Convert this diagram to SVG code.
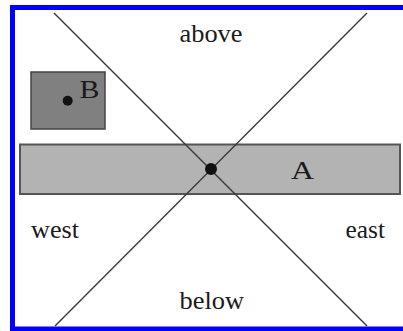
<svg xmlns="http://www.w3.org/2000/svg" width="403" height="331" viewBox="0 0 403 331">
<style>
.t{font-family:"Liberation Serif","Times New Roman",serif;font-size:25px;fill:#1a1a1a}
.ln{stroke:#3a3a3a;stroke-width:1.4;fill:none}
</style>
<rect x="0" y="0" width="403" height="331" fill="#fff"/>
<rect x="12.5" y="7.5" width="400" height="321.5" fill="none" stroke="#0000ff" stroke-width="5"/>
<g id="A">
<rect x="20" y="144.5" width="380" height="49.5" fill="#b3b3b3" stroke="#555" stroke-width="2"/>
<text class="t" x="291" y="179" font-size="29" textLength="23" lengthAdjust="spacingAndGlyphs">A</text>
</g>
<g id="B">
<rect x="31" y="72" width="74" height="57" fill="#808080" stroke="#444" stroke-width="1.5"/>
<circle cx="67.7" cy="100.7" r="5" fill="#111"/>
<text class="t" x="79.5" y="98" font-size="23" textLength="20" lengthAdjust="spacingAndGlyphs">B</text>
</g>
<g id="connectors">
<line class="ln" x1="54" y1="13" x2="367" y2="326"/>
<line class="ln" x1="367" y1="13" x2="55" y2="326"/>
</g>
<g id="center">
<circle cx="211" cy="169" r="6" fill="#111"/>
</g>
<g id="labels">
<text class="t" x="179.5" y="41.7" textLength="63" lengthAdjust="spacingAndGlyphs">above</text>
<text class="t" x="179.5" y="309" textLength="64.5" lengthAdjust="spacingAndGlyphs">below</text>
<text class="t" x="31" y="238.3" textLength="48" lengthAdjust="spacingAndGlyphs">west</text>
<text class="t" x="345.5" y="238.3" textLength="39.5" lengthAdjust="spacingAndGlyphs">east</text>
</g>
</svg>
